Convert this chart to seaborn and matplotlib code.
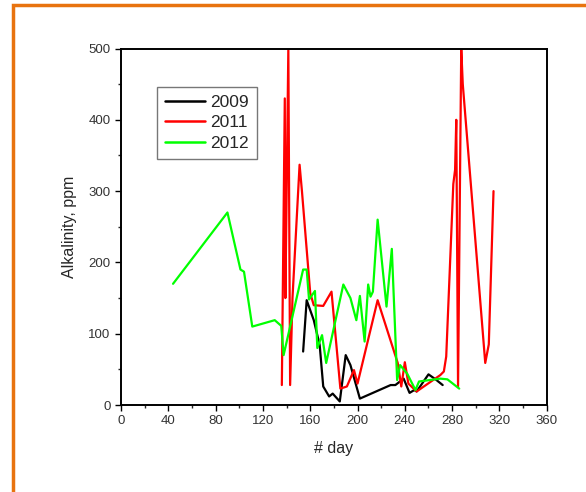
import matplotlib
matplotlib.use("Agg")
import matplotlib.pyplot as plt
import seaborn as sns
import pandas as pd
from matplotlib.patches import Rectangle
from matplotlib.ticker import MultipleLocator

sns.set_style("ticks")
plt.rcParams['font.family'] = ['Liberation Sans', 'DejaVu Sans']

# ---- data ----
days_2009 = [154, 157, 163, 168, 171, 176, 179, 185, 190, 194, 202, 228, 232, 239, 244, 248, 250, 260, 266, 272]
alk_2009 = [75, 147, 119, 84, 26, 12, 16, 5, 70, 56, 9, 28, 28, 37, 17, 21, 19, 43, 36, 28]

days_2011 = [136, 138.5, 139, 140, 141.5, 143, 145, 151, 153, 160, 163, 171, 178, 185.5, 191, 197, 200,
             217, 234, 237, 240, 243, 250, 270, 273, 275, 281, 282.5, 283.5, 285, 287.7, 289, 308, 311, 315]
alk_2011 = [28, 430, 150, 290, 500, 28, 150, 337, 300, 157, 140, 139, 159, 23, 26, 49, 30,
            147, 59, 26, 60, 30, 19, 42, 47, 68, 310, 330, 400, 26, 500, 450, 59, 85, 300]

days_2012 = [44, 90, 101, 104, 111, 130, 135.5, 137.5, 154, 157, 159, 164, 166, 170, 173.5, 188,
             194, 199, 202, 206, 209, 211, 213, 217, 224.5, 229, 233.5, 236, 242, 249, 252, 270, 276, 286]
alk_2012 = [170, 270, 190, 187, 110, 119, 111, 70, 190, 190, 148, 160, 80, 98, 59, 169,
            150, 119, 153, 89, 169, 152, 159, 260, 138, 219, 35, 56, 44, 21, 33, 37, 36, 23]

years = ["2009", "2011", "2012"]
colors = {"2009": "#000000", "2011": "#FF0000", "2012": "#00FF00"}

frames = []
for yr, d, v in [("2009", days_2009, alk_2009), ("2011", days_2011, alk_2011), ("2012", days_2012, alk_2012)]:
    frames.append(pd.DataFrame({"day": d, "alk": v, "year": yr}))
df = pd.concat(frames, ignore_index=True)

fig = plt.figure(figsize=(5.86, 4.92), dpi=100)
ax = fig.add_axes([0.2065, 0.1768, 0.7265, 0.7246])

sns.lineplot(data=df, x="day", y="alk", hue="year", hue_order=years, palette=colors,
             sort=False, estimator=None, units="year", lw=1.6, ax=ax, legend=True)

ax.set_xlim(0, 360)
ax.set_ylim(0, 500)
ax.xaxis.set_major_locator(MultipleLocator(40))
ax.xaxis.set_minor_locator(MultipleLocator(20))
ax.yaxis.set_major_locator(MultipleLocator(100))
ax.yaxis.set_minor_locator(MultipleLocator(50))
ax.tick_params(which="major", direction="out", length=4, width=1, labelsize=9.5, colors="black", labelcolor="#333333")
ax.tick_params(which="minor", direction="out", length=2.5, width=1)
ax.tick_params(top=False, right=False)
for s in ax.spines.values():
    s.set_visible(True)
    s.set_linewidth(1.4)
    s.set_color("black")

ax.set_xlabel("# day", fontsize=11.5, labelpad=10)
ax.set_ylabel("Alkalinity, ppm", fontsize=11.5, labelpad=8)

leg = ax.legend(loc="upper left", bbox_to_anchor=(0.085, 0.892), fontsize=12.5, handlelength=2.3,
                handletextpad=0.3, borderpad=0.45, labelspacing=0.3, fancybox=False,
                frameon=True, borderaxespad=0)
leg.get_frame().set_edgecolor("#555555")
leg.get_frame().set_linewidth(1.0)
for line in leg.get_lines():
    line.set_linewidth(1.8)

# orange frame
fig.patches.append(Rectangle((13 / 586, -0.1), 2.0, 1.1 - 5 / 492, transform=fig.transFigure,
                             fill=False, edgecolor="#E8730F", linewidth=2.5, zorder=10))

fig.savefig("out.png", dpi=100)
